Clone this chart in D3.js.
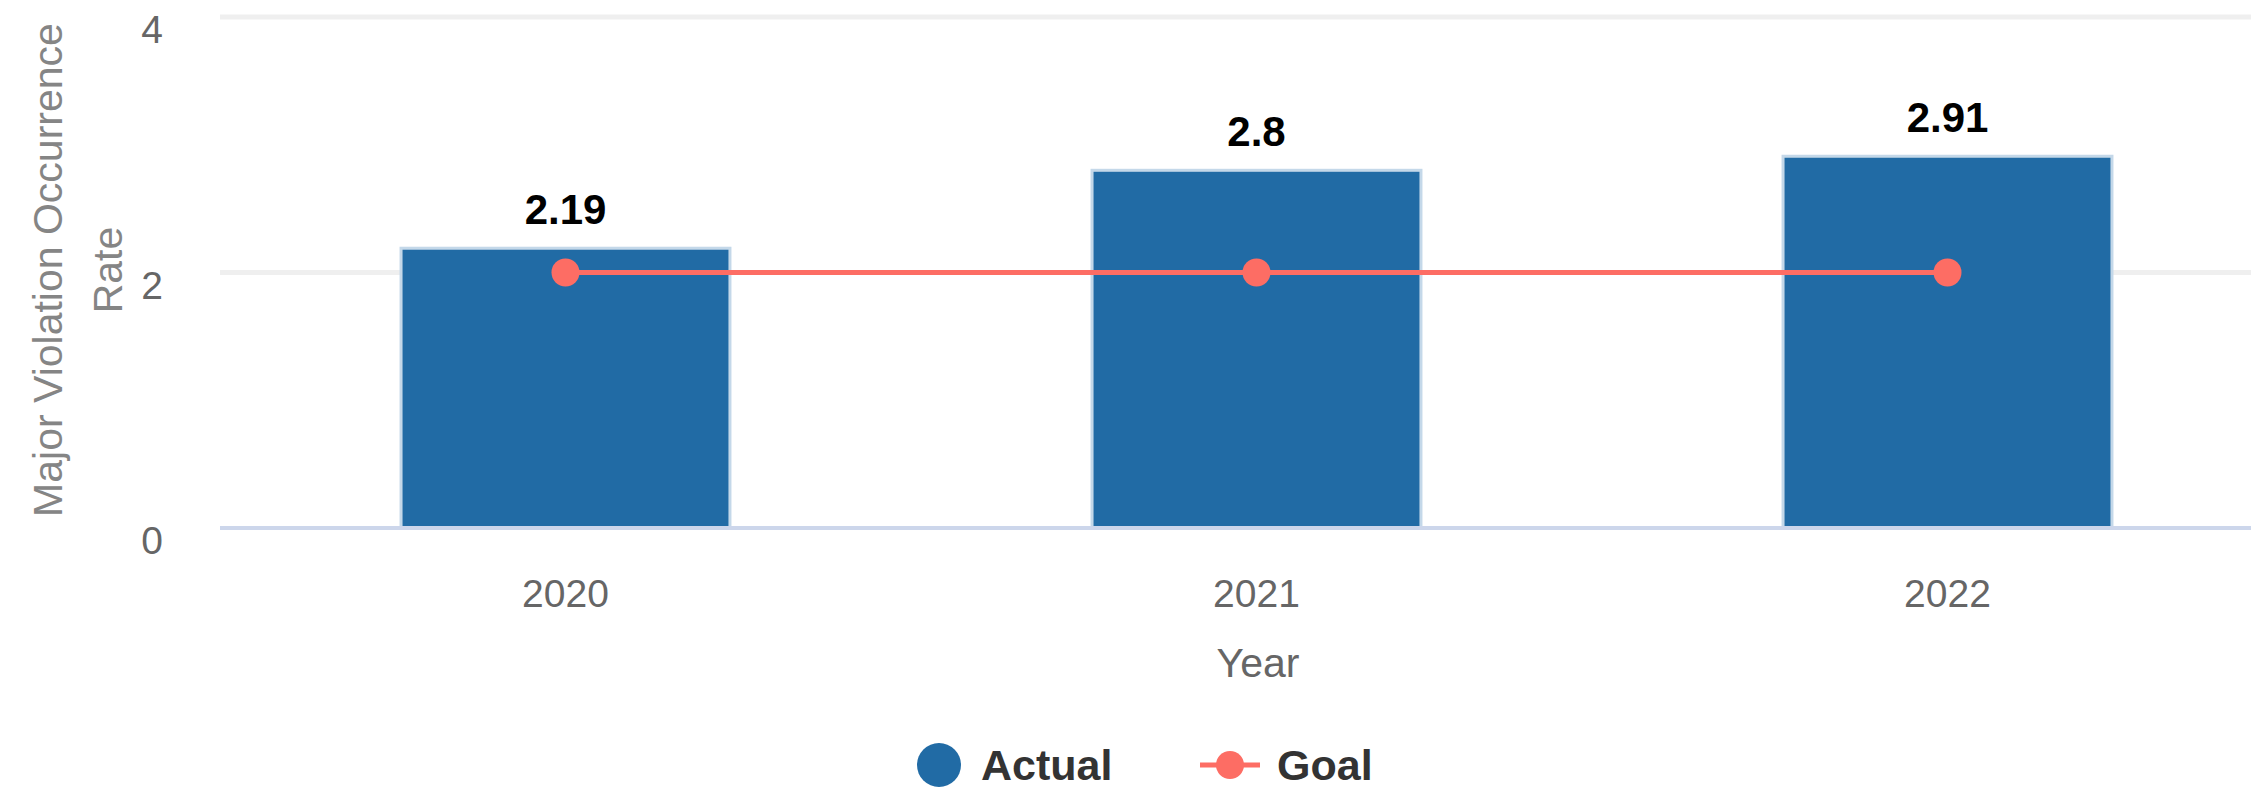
<!DOCTYPE html>
<html>
<head>
<meta charset="utf-8">
<script src="https://cdn.jsdelivr.net/npm/d3@7"></script>
<style>
body { margin: 0; background: #fff; overflow: hidden; }
text { font-family: "Liberation Sans", Arial, sans-serif; }
</style>
</head>
<body>
<div class="chart"></div>
<script>
// chart data
const years = ['2020', '2021', '2022'];
const actual = [2.19, 2.8, 2.91];
const goal = [2, 2, 2];
const yTicks = [0, 2, 4];

const width = 2251;
const height = 790;

const svg = d3.select('.chart')
    .append('svg')
    .attr('width', width)
    .attr('height', height)

const x = d3.scaleBand()
    .domain(years)
    .range([220, 2293])
    .paddingInner(0.524)
    .paddingOuter(0.262);

const y = d3.scaleLinear()
    .domain([0, 4])
    .range([528, 17]);

// grid lines
svg.selectAll('.grid')
    .data(yTicks.filter(d => d > 0))
    .enter()
    .append('line')
    .attr('class', 'grid')
    .attr('x1', 220)
    .attr('x2', width)
    .attr('y1', d => y(d))
    .attr('y2', d => y(d))
    .attr('stroke', '#efefef')
    .attr('stroke-width', 5)

// y tick labels
svg.selectAll('.ytick')
    .data(yTicks)
    .enter()
    .append('text')
    .attr('class', 'ytick')
    .attr('x', 163)
    .attr('y', d => y(d) + 26)
    .attr('text-anchor', 'end')
    .attr('font-size', 39)
    .attr('fill', '#666')
    .text(d => d)

// bars
svg.selectAll('.bar')
    .data(years)
    .enter()
    .append('rect')
    .attr('class', 'bar')
    .attr('x', d => x(d))
    .attr('y', (d, i) => y(actual[i]))
    .attr('width', x.bandwidth())
    .attr('height', (d, i) => y(0) - y(actual[i]))
    .attr('fill', '#216ba5')
    .attr('stroke', '#c4d8e9')
    .attr('stroke-width', 3)

// baseline
svg.append('line')
    .attr('x1', 220)
    .attr('x2', width)
    .attr('y1', y(0))
    .attr('y2', y(0))
    .attr('stroke', '#ccd6eb')
    .attr('stroke-width', 4)

// goal line
const line = d3.line()
    .x((d, i) => x(years[i]) + x.bandwidth() / 2)
    .y(d => y(d));

svg.append('path')
    .datum(goal)
    .attr('d', line)
    .attr('fill', 'none')
    .attr('stroke', '#fd6d64')
    .attr('stroke-width', 5)

svg.selectAll('.dot')
    .data(goal)
    .enter()
    .append('circle')
    .attr('class', 'dot')
    .attr('cx', (d, i) => x(years[i]) + x.bandwidth() / 2)
    .attr('cy', d => y(d))
    .attr('r', 14)
    .attr('fill', '#fd6d64')

// data labels
svg.selectAll('.label')
    .data(actual)
    .enter()
    .append('text')
    .attr('class', 'label')
    .attr('x', (d, i) => x(years[i]) + x.bandwidth() / 2)
    .attr('y', d => y(d) - 24)
    .attr('text-anchor', 'middle')
    .attr('font-size', 42)
    .attr('font-weight', 'bold')
    .attr('fill', '#000')
    .text(d => d)

// x tick labels
svg.selectAll('.xtick')
    .data(years)
    .enter()
    .append('text')
    .attr('class', 'xtick')
    .attr('x', d => x(d) + x.bandwidth() / 2)
    .attr('y', 607)
    .attr('text-anchor', 'middle')
    .attr('font-size', 39)
    .attr('fill', '#666')
    .text(d => d)

// axis titles
svg.append('text')
    .attr('x', 1258)
    .attr('y', 677)
    .attr('text-anchor', 'middle')
    .attr('font-size', 41)
    .attr('fill', '#666')
    .text('Year')

const yTitle = svg.append('text')
    .attr('transform', 'translate(0,270) rotate(-90)')
    .attr('text-anchor', 'middle')
    .attr('font-size', 41)
    .attr('fill', '#858585')

yTitle.append('tspan').attr('x', 0).attr('y', 62).text('Major Violation Occurrence')
yTitle.append('tspan').attr('x', 0).attr('y', 122).text('Rate')

// legend
svg.append('circle')
    .attr('cx', 939)
    .attr('cy', 765)
    .attr('r', 22)
    .attr('fill', '#216ba5')

svg.append('text')
    .attr('x', 981)
    .attr('y', 780)
    .attr('font-size', 43)
    .attr('font-weight', 'bold')
    .attr('fill', '#333')
    .text('Actual')

svg.append('line')
    .attr('x1', 1200)
    .attr('x2', 1260)
    .attr('y1', 765)
    .attr('y2', 765)
    .attr('stroke', '#fd6d64')
    .attr('stroke-width', 5)

svg.append('circle')
    .attr('cx', 1230)
    .attr('cy', 765)
    .attr('r', 14)
    .attr('fill', '#fd6d64')

svg.append('text')
    .attr('x', 1277)
    .attr('y', 780)
    .attr('font-size', 43)
    .attr('font-weight', 'bold')
    .attr('fill', '#333')
    .text('Goal')
</script>
</body>
</html>
